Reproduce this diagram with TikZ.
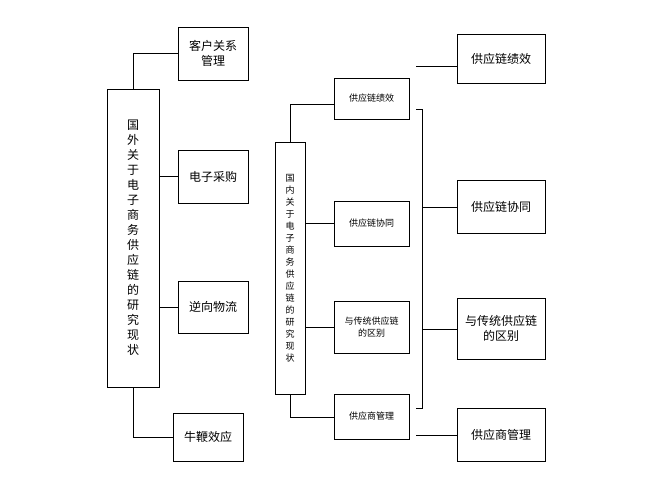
\documentclass[tikz,border=0pt]{standalone}
\usepackage{fontspec}
\setmainfont{Noto Sans CJK SC}
\begin{document}
\begin{tikzpicture}[x=1pt,y=-1pt,
  bx/.style={draw,thick,inner sep=0pt,align=center,font=\fontsize{12}{15}\selectfont},
  sbx/.style={draw,thick,inner sep=0pt,align=center,font=\fontsize{9}{12}\selectfont},
  ln/.style={thick}]
\useasboundingbox (0,0) rectangle (667,500);
\newcommand{\bxat}[6]{\node[#1,minimum width=#4-#2,minimum height=#5-#3] (#6) at ({(#2+#4)/2},{(#3+#5)/2})}
% left
\bxat{bx}{107}{89}{159}{387}{L} {国\\外\\关\\于\\电\\子\\商\\务\\供\\应\\链\\的\\研\\究\\现\\状};
\bxat{bx}{178}{27}{248}{80}{L1} {客户关系\\管理};
\bxat{bx}{178}{150}{248}{203}{L2} {电子采购};
\bxat{bx}{178}{281}{248}{333}{L3} {逆向物流};
\bxat{bx}{173}{413}{243}{461}{L4} {牛鞭效应};
\draw[ln] (L.north) |- (L1.west);
\draw[ln] (L.east |- L2.west) -- (L2.west);
\draw[ln] (L.east |- L3.west) -- (L3.west);
\draw[ln] (L.south) |- (L4.west);
% middle
\bxat{sbx}{275}{142}{305}{394}{M} {国\\内\\关\\于\\电\\子\\商\\务\\供\\应\\链\\的\\研\\究\\现\\状};
\bxat{sbx}{334}{78}{409}{119}{M1} {供应链绩效};
\bxat{sbx}{334}{201}{409}{246}{M2} {供应链协同};
\bxat{sbx}{334}{301}{409}{353}{M3} {与传统供应链\\的区别};
\bxat{sbx}{334}{394}{409}{439}{M4} {供应商管理};
\coordinate (t) at (290,142);
\coordinate (b) at (290,394);
\draw[ln] (t) |- (334,104) coordinate (m1w);
\draw[ln] (M.east |- 0,223) -- (M2.west |- 0,223);
\draw[ln] (M.east |- 0,327) -- (M3.west |- 0,327);
\draw[ln] (b) |- (334,417);
% right
\bxat{bx}{457}{34}{545}{83}{R1} {供应链绩效};
\bxat{bx}{457}{180}{545}{233}{R2} {供应链协同};
\bxat{bx}{457}{298}{545}{359}{R3} {与传统供应链\\的区别};
\bxat{bx}{457}{408}{545}{461}{R4} {供应商管理};
\coordinate (ba) at (416,109);
\coordinate (bb) at (416,408);
\draw[ln] (ba) -- (422,109) -- (422,408) -- (bb);
\draw[ln] (422,207) -- (R2.west |- 0,207);
\draw[ln] (422,329) -- (R3.west |- 0,329);
\coordinate (f1) at (416,66);
\coordinate (f4) at (416,435);
\draw[ln] (f1) -- (R1.west |- f1);
\draw[ln] (f4) -- (R4.west |- f4);
\end{tikzpicture}
\end{document}
